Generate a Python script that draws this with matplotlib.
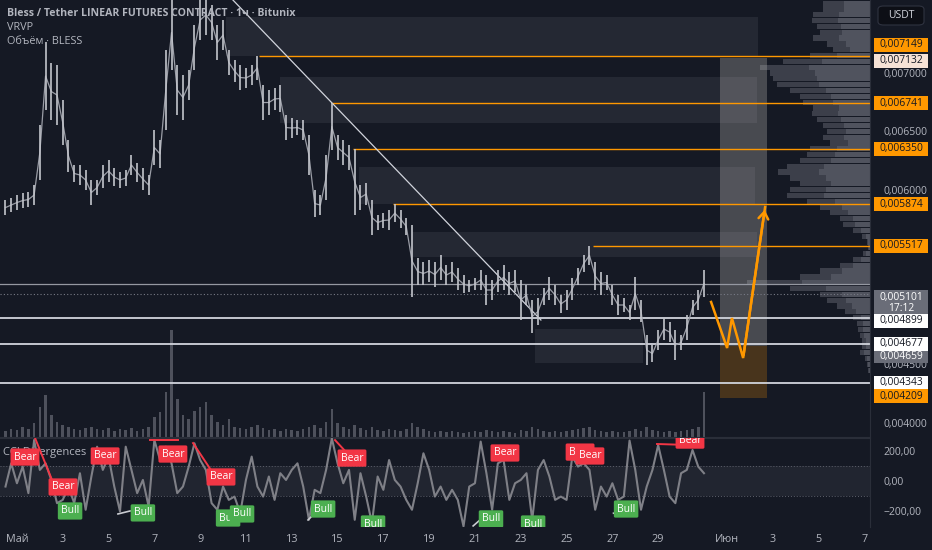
import numpy as np
import matplotlib
matplotlib.use("Agg")
import matplotlib.pyplot as plt
from matplotlib.patches import Rectangle, FancyBboxPatch
from matplotlib.ticker import FuncFormatter, FixedLocator

plt.rcParams['font.family'] = ['Open Sans', 'DejaVu Sans']

BG = '#151924'
TXT = '#b2b5be'
GRID = '#2a2e39'
ORANGE = '#ff9800'
BEAR = '#f23645'
BULL = '#4caf50'

# 6-hour bars, day numbers counted in May (1 = 1 May)
bar_start = 0.5
bar_step = 0.25

highs = [5910, 5927, 5953, 5970, 5979, 6039, 6554, 7266, 7086, 7069,
         6769, 6425, 6211, 6211, 6168, 6082, 6082, 6211, 6254, 6185,
         6151, 6168, 6296, 6228, 6185, 6125, 6511, 6425, 7198, 7670,
         7069, 6983, 7026, 7412, 7627, 7670, 7584, 7412, 7455, 7198,
         7112, 7069, 7043, 7069, 7149, 6897, 6854, 6872, 6897, 6640,
         6614, 6597, 6597, 6468, 5996, 5953, 6296, 6741, 6468, 6425,
         6382, 6350, 6039, 6056, 5910, 5781, 5799, 5824, 5874, 5824,
         5756, 5696, 5412, 5378, 5395, 5378, 5438, 5352, 5378, 5326,
         5266, 5224, 5241, 5309, 5266, 5224, 5309, 5352, 5292, 5309,
         5224, 5181, 5052, 5069, 5155, 5249, 5181, 5095, 5138, 5241,
         5326, 5438, 5517, 5378, 5292, 5266, 5181, 5095, 5069, 5009,
         5249, 5052, 4751, 4665, 4794, 4897, 4863, 4794, 4751, 4923,
         5052, 5138, 5309]
lows = [5781, 5807, 5824, 5841, 5850, 5867, 6082, 6683, 6597, 6554,
        6382, 6151, 6065, 6039, 5996, 5867, 5953, 6013, 6065, 6030,
        6013, 6030, 6125, 6065, 5996, 5953, 6211, 6185, 6511, 7026,
        6640, 6597, 6769, 7026, 7284, 7327, 7284, 7112, 7198, 6983,
        6923, 6854, 6872, 6897, 6940, 6597, 6640, 6683, 6666, 6425,
        6442, 6468, 6425, 6125, 5764, 5781, 5910, 6339, 6254, 6211,
        6168, 5781, 5824, 5867, 5610, 5653, 5670, 5653, 5721, 5670,
        5610, 5078, 5181, 5181, 5206, 5163, 5224, 5181, 5206, 5138,
        5112, 5121, 5138, 5138, 5009, 5052, 5121, 5138, 5095, 5121,
        4880, 5009, 4768, 4837, 5009, 5052, 5009, 4940, 4966, 5052,
        5181, 5292, 5352, 5138, 5095, 5138, 5009, 4923, 4949, 4880,
        4966, 4863, 4494, 4519, 4623, 4708, 4691, 4537, 4623, 4708,
        4923, 4966, 5078]
volumes = [6, 8, 7, 10, 8, 14, 30, 42, 22, 15, 12, 10, 8, 7, 9, 10, 8, 7, 9, 6,
           8, 7, 9, 6, 8, 10, 20, 25, 45, 107, 38, 22, 18, 26, 30, 35, 22, 15, 12, 18,
           10, 9, 8, 10, 12, 9, 7, 8, 6, 8, 7, 6, 8, 10, 12, 9, 15, 28, 14, 10,
           8, 12, 9, 7, 10, 7, 6, 8, 7, 6, 8, 14, 10, 8, 6, 5, 6, 5, 6, 5,
           4, 5, 6, 5, 7, 6, 5, 6, 5, 4, 7, 6, 10, 8, 6, 5, 6, 5, 6, 7,
           8, 9, 10, 7, 6, 5, 6, 5, 5, 6, 8, 6, 10, 7, 6, 5, 6, 5, 6, 7,
           8, 10, 45]
cci = [-37, 118, -15, 96, -81, 274, 74, 118, 7, -148,
       -126, -37, -148, 52, -192, 30, 229, 74, 163, -37,
       -203, 229, 74, -81, 7, -170, 274, 140, 229, 118,
       -81, -37, 96, 252, 140, 74, -148, -192, -37, -126,
       -104, -215, 7, 163, -37, -104, 30, -126, 52, 7,
       74, 118, -37, -259, -59, -81, 74, 285, 118, -15,
       74, -259, 52, -104, -281, 30, -59, 140, 7, -37,
       -126, -192, -15, 185, 74, -104, -37, -126, -59, -126,
       -303, -37, -15, 263, 52, -192, 118, 140, -126, -15,
       7, 52, -259, 74, 140, 30, -126, -104, -126, 163,
       96, 118, 74, -192, -37, -104, -15, -126, -104, 270,
       74, -192, -37, 74, 240, 74, -104, -148, 52, 74,
       207, 96, 52]

last_price = 0.005101
last_time = '17:12'

# volume profile (VRVP): price bins and relative volume
vp_prices = np.arange(0.00760, 0.00440, -0.00005)
vp_volume = [47, 47, 57, 58, 53, 50, 57, 43, 37, 60,
             87, 110, 100, 97, 93, 80, 70, 67, 57, 58,
             53, 47, 43, 47, 40, 60, 63, 70, 83, 92,
             80, 70, 80, 83, 63, 50, 40, 30, 27, 17,
             8, 3, 2, 7, 17, 30, 50, 70, 123, 80,
             50, 43, 33, 25, 17, 13, 12, 10, 8, 8,
             10, 5, 3, 2]

# orange resistance lines: level, start day
res_levels = [0.007149, 0.006741, 0.006350, 0.005874, 0.005517]
res_start = [11.57, 14.71, 15.67, 17.42, 26.15]
# white support lines
sup_levels = [0.004899, 0.004677, 0.004343]
grey_level = 0.005190

# zones: day0, day1, price low, price high
zones = [(10.13, 33.36, 0.007146, 0.007481),
         (12.49, 33.32, 0.006571, 0.006966),
         (15.94, 33.23, 0.005876, 0.006193),
         (18.25, 33.32, 0.005421, 0.005635),
         (23.62, 28.34, 0.004511, 0.004803)]

trend_days = [10.43, 23.88]
trend_prices = [0.007627, 0.004880]

# long position tool
pos_days = (31.70, 33.75)
pos_entry, pos_target, pos_stop = 0.004659, 0.007132, 0.004209

# projected path
path_days = [31.31, 32.01, 32.22, 32.71, 33.67]
path_prices = [0.005035, 0.004640, 0.004897, 0.004554, 0.005850]

# divergence labels: day, cci
bear_labels = [(1.35, 160), (3.01, -40), (4.85, 167), (7.81, 180), (9.91, 27),
               (15.63, 153), (22.31, 187), (25.59, 193), (26.02, 167), (30.39, 273)]
bull_labels = [(3.32, -200), (6.50, -213), (10.22, -247), (10.83, -220), (14.37, -187),
               (16.55, -287), (21.70, -253), (23.54, -287), (27.60, -187)]
bear_lines = [((1.79, 2.57), (287, -7)), ((6.81, 8.03), (273, 273)),
              ((8.69, 9.56), (253, 53)), ((14.89, 15.41), (273, 187)),
              ((28.95, 30.39), (247, 240))]
bull_lines = [((5.41, 5.94), (-220, -200)), ((13.71, 13.93), (-260, -227)),
              ((20.92, 21.22), (-300, -260)), ((27.05, 27.28), (-215, -207))]

price_ticks = [0.004, 0.0045, 0.006, 0.0065, 0.007]
cci_ticks = [-200, 0, 200]
tick_days = [1, 3, 5, 7, 9, 11, 13, 15, 17, 19, 21, 23, 25, 27, 29, 32, 34, 36, 38]
tick_names = ['Май', '3', '5', '7', '9', '11', '13', '15', '17', '19', '21', '23',
              '25', '27', '29', 'Июн', '3', '5', '7']

XMIN, XMAX = 0.26, 38.25
YMIN, YMAX = 0.003876, 0.007627
W, H = 932, 550

days = bar_start + bar_step * np.arange(len(highs))
hi = np.array(highs) / 1e6
lo = np.array(lows) / 1e6

fig = plt.figure(figsize=(W / 100, H / 100), dpi=100, facecolor=BG)
ax = fig.add_axes([0, 1 - 437 / H, 870 / W, 437 / H])
ax.patch.set_visible(False)
ax.set_xlim(XMIN, XMAX)
ax.set_ylim(YMIN, YMAX)

# volume underneath
vax = ax.twinx()
vax.set_zorder(ax.get_zorder() - 1)
vax.bar(days, volumes, width=0.11, color='#5d606b', alpha=0.8)
vax.set_ylim(0, max(volumes) / 0.245)
vax.axis('off')

# volume profile
pax = ax.twiny()
pax.set_zorder(ax.get_zorder() - 1)
pax.barh(vp_prices, vp_volume, height=0.000045, color='#5d606b', alpha=0.55)
pax.barh(vp_prices, np.array(vp_volume) * 0.55, height=0.000045, color='#787b86', alpha=0.35)
pax.set_xlim(max(vp_volume) / 0.1414, 0)
pax.set_ylim(YMIN, YMAX)
pax.axis('off')

for d0, d1, p0, p1 in zones:
    ax.add_patch(Rectangle((d0, p0), d1 - d0, p1 - p0, fc='#787b86', alpha=0.16, ec='none', zorder=1))

ax.add_patch(Rectangle((pos_days[0], pos_entry), pos_days[1] - pos_days[0], pos_target - pos_entry,
                       fc='#c0bdb8', alpha=0.3, ec='none', zorder=1.5))
ax.add_patch(Rectangle((pos_days[0], pos_stop), pos_days[1] - pos_days[0], pos_entry - pos_stop,
                       fc=ORANGE, alpha=0.22, ec='none', zorder=1.5))

# price bars
ax.vlines(days, lo, hi, color='#c3c5cc', lw=1.2, zorder=3)
ax.plot(days, (hi + lo) / 2, color='#9a9da6', lw=0.9, zorder=2.9)

for lvl, d0 in zip(res_levels, res_start):
    ax.hlines(lvl, d0, XMAX, color=ORANGE, lw=1.0, zorder=2.5)
for lvl in sup_levels:
    ax.axhline(lvl, color='#d1d4dc', lw=1.3, zorder=2.5)
ax.axhline(grey_level, color='#9598a1', lw=0.9, zorder=2.5)
ax.axhline(last_price, color='#787b86', lw=0.8, ls=(0, (1, 2)), zorder=2.5)

ax.plot(trend_days, trend_prices, color='#d1d4dc', lw=0.9, zorder=2.6)

ax.plot(path_days, path_prices, color=ORANGE, lw=1.8, zorder=4, solid_joinstyle='miter')
ax.annotate('', xy=(path_days[-1], path_prices[-1]), xytext=(path_days[-2], path_prices[-2]),
            arrowprops=dict(arrowstyle='->,head_length=0.5,head_width=0.35', color=ORANGE, lw=1.8),
            zorder=4)

# right price scale
ax.yaxis.tick_right()
ax.yaxis.set_major_locator(FixedLocator(price_ticks))
ax.yaxis.set_major_formatter(FuncFormatter(lambda v, p: f"{v:.6f}".replace('.', ',')))
ax.tick_params(axis='y', colors=TXT, labelsize=7.5, length=0, pad=10)
ax.tick_params(axis='x', bottom=False, labelbottom=False)
for s in ['top', 'left']:
    ax.spines[s].set_visible(False)
ax.spines['right'].set_color(GRID)
ax.spines['bottom'].set_color(GRID)


def fmt(v):
    return f"{v:.6f}".replace('.', ',')


def price_tag(level, text, fc, tc, dy=0, h=14):
    # dy: shift of the tag centre in pixels, positive = down
    ypix = ax.transData.transform((XMIN, level))[1] - dy
    fig.patches.append(Rectangle((874 / W, (ypix - h / 2) / H), 54 / W, h / H,
                                 transform=fig.transFigure, fc=fc, ec='none', zorder=6))
    fig.text(901 / W, ypix / H, text, color=tc, fontsize=7.4, ha='center', va='center',
             linespacing=1.05, zorder=7)


price_tag(res_levels[0], fmt(res_levels[0]), ORANGE, '#131722', dy=-11)
price_tag(pos_target, fmt(pos_target), '#f6e2d6', '#131722', dy=3)
for lvl in res_levels[1:]:
    price_tag(lvl, fmt(lvl), ORANGE, '#131722')
price_tag(last_price, fmt(last_price) + '\n' + last_time, '#6a6d78', 'white', dy=8.5, h=25)
price_tag(sup_levels[0], fmt(sup_levels[0]), 'white', '#131722', dy=3)
price_tag(sup_levels[1], fmt(sup_levels[1]), 'white', '#131722', dy=0)
price_tag(pos_entry, fmt(pos_entry), '#6a6d78', 'white', dy=11, h=12)
price_tag(sup_levels[2], fmt(sup_levels[2]), 'white', '#131722', dy=0)
price_tag(pos_stop, fmt(pos_stop), ORANGE, '#131722', dy=-2)

# header texts
fig.text(7 / W, 1 - 14 / H, 'Bless / Tether LINEAR FUTURES CONTRACT · 1ч · Bitunix',
         color=TXT, fontsize=7.6, fontweight='bold', va='center')
fig.text(7 / W, 1 - 28 / H, 'VRVP', color=TXT, fontsize=7.8, va='center')
fig.text(7 / W, 1 - 42 / H, 'Объём · BLESS', color=TXT, fontsize=7.8, va='center')

# USDT button
fig.patches.append(FancyBboxPatch((878 / W, 1 - 25 / H), 46 / W, 19 / H,
                                  boxstyle='round,pad=0,rounding_size=0.006',
                                  transform=fig.transFigure, fc='#0d0f16', ec='#2f3340', lw=0.8))
fig.text(901 / W, 1 - 15 / H, 'USDT', color='#d1d4dc', fontsize=7.5, ha='center', va='center')

# CCI pane
cax = fig.add_axes([0, 1 - 527 / H, 870 / W, 89 / H], sharex=ax)
cax.set_facecolor(BG)
cax.set_ylim(-307, 287)
cax.axhspan(-100, 100, color='#787b86', alpha=0.13, lw=0)
cax.axhline(100, color='#5d606b', lw=0.7, ls=(0, (1, 2)))
cax.axhline(-100, color='#5d606b', lw=0.7, ls=(0, (1, 2)))
cax.plot(days, cci, color='#7f8087', lw=1.5, zorder=3)
cax.text(0.4, 187, 'CCI Divergences', color=TXT, fontsize=8, va='center', zorder=2)

for xs, ys in bear_lines:
    cax.plot(xs, ys, color=BEAR, lw=1.4, zorder=4)
for xs, ys in bull_lines:
    cax.plot(xs, ys, color='#c9cbd1', lw=1.2, zorder=4)
for d, v in bear_labels:
    cax.text(d, v, 'Bear', color='white', fontsize=7.5, ha='center', va='center', zorder=5, clip_on=True,
             bbox=dict(boxstyle='round,pad=0.3,rounding_size=0.15', fc=BEAR, ec='none'))
for d, v in bull_labels:
    cax.text(d, v, 'Bull', color='white', fontsize=7.5, ha='center', va='center', zorder=5, clip_on=True,
             bbox=dict(boxstyle='round,pad=0.3,rounding_size=0.15', fc=BULL, ec='none'))

cax.yaxis.tick_right()
cax.yaxis.set_major_locator(FixedLocator(cci_ticks))
cax.yaxis.set_major_formatter(FuncFormatter(lambda v, p: f"{v:.2f}".replace('.', ',').replace('-', '\u2212')))
cax.tick_params(axis='y', colors=TXT, labelsize=7.5, length=0, pad=10)
cax.set_xticks(tick_days)
cax.set_xticklabels(tick_names)
cax.tick_params(axis='x', colors=TXT, labelsize=7.8, length=0, pad=5)
cax.spines['left'].set_visible(False)
cax.spines['bottom'].set_visible(False)
cax.spines['top'].set_color(GRID)
cax.spines['right'].set_color(GRID)
cax.set_xlim(XMIN, XMAX)

fig.savefig('out.png', dpi=100, facecolor=BG)
